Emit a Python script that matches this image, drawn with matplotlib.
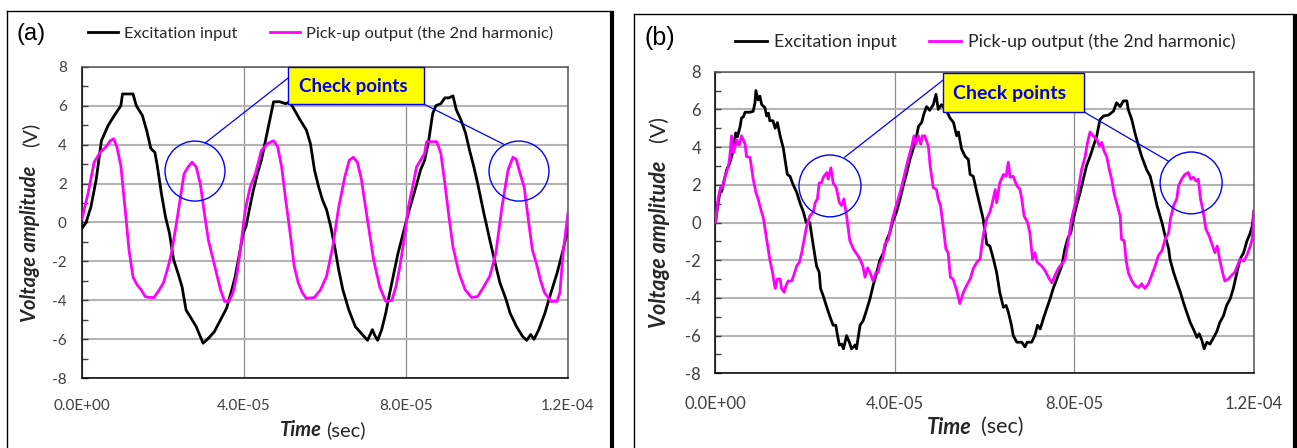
import numpy as np
import matplotlib.pyplot as plt
from matplotlib.patches import Ellipse, Rectangle
from matplotlib.lines import Line2D
from matplotlib.ticker import MultipleLocator, FuncFormatter

plt.rcParams['font.family'] = ['Lato', 'DejaVu Sans']

# (time in microseconds, voltage)
exc_a = [(0, -0.3), (1, 0), (2.2, 0.8), (3.5, 2.2), (4.8, 4.2), (6.5, 5), (8, 5.5), (9.6, 6),
         (10, 6.6), (12.6, 6.6), (13.4, 6), (14.9, 5.5), (16, 4.7), (17, 3.8), (18, 3.6), (18.6, 2.9),
         (19.6, 1.5), (20.6, 0.3), (21.6, -0.55), (22.6, -1.9), (23.7, -2.6), (24.7, -3.3), (25.7, -4.5),
         (27.2, -5), (28.2, -5.35), (29.2, -5.85), (29.9, -6.2), (31.2, -5.95), (32.7, -5.6), (34.2, -5),
         (35.7, -4.4), (36.8, -3.6), (37.8, -2.8), (38.8, -1.7), (39.8, -0.55), (40.5, -0.2), (41.3, 0.65),
         (42.3, 1.65), (43.3, 2.5), (44.3, 3.2), (45.3, 4.2), (46.3, 5.2), (47.3, 6.2), (48.8, 6.2),
         (50.3, 6.1), (51.3, 6.2), (52.4, 5.8), (53.9, 5.25), (55.4, 4.75), (56.4, 4.05), (57.4, 2.7),
         (58.4, 1.85), (59.4, 1.15), (60.4, 0.65), (61.4, -0.2), (62.4, -1.25), (63.4, -2.45), (64.4, -3.45),
         (65.9, -4.5), (67.5, -5.35), (69, -5.7), (70.5, -6.05), (71.7, -5.5), (72.3, -5.8), (73, -6.05),
         (74, -5.5), (75, -4.65), (76, -3.6), (77, -2.6), (78, -1.6), (79.5, -0.4), (80.6, 0.5), (82, 1.5),
         (83.6, 2.7), (84.6, 3.2), (85.6, 4.2), (86.6, 5.6), (87.4, 6), (88.6, 6.1), (89.6, 6.4), (90.6, 6.4),
         (91.6, 6.5), (92.4, 5.8), (93.6, 5.25), (94.7, 4.6), (95.7, 3.7), (96.7, 2.9), (97.7, 2),
         (99.2, 0.5), (100.7, -0.9), (102.2, -2.25), (103.2, -3.1), (104.7, -3.95), (105.7, -4.65),
         (107.3, -5.35), (108.8, -5.85), (109.8, -6.05), (110.8, -5.75), (111.6, -6), (112.8, -5.5),
         (114.3, -4.65), (115.8, -3.6), (117.3, -2.6), (118.8, -1.4), (120, -0.3)]

pick_a = [(0, 0.2), (1.5, 1.5), (3, 3.1), (4.5, 3.6), (6, 3.9), (7, 4.2), (7.8, 4.3), (8.6, 3.9), (9.6, 2.9),
          (10.6, 0.8), (11.6, -1.4), (12.6, -2.8), (13.6, -3.2), (14.6, -3.45), (15.6, -3.8), (16.6, -3.85),
          (17.8, -3.85), (19.1, -3.45), (20.1, -3.1), (21.3, -2.25), (22.1, -1.55), (23.2, -0.2), (24.2, 1.15),
          (25.2, 2.5), (26.2, 2.85), (27.2, 3.1), (28.2, 2.85), (29.2, 2), (30.2, 0.5), (31.2, -0.9),
          (32.2, -1.75), (33.2, -2.6), (34.2, -3.45), (35.2, -4.05), (36.3, -4.05), (37.3, -3.6), (38.3, -2.6),
          (39.3, -1.05), (40.3, 0.65), (41.5, 1.8), (42.8, 2.5), (44.3, 3.7), (45.8, 4.05), (47.3, 4.2),
          (48.3, 3.9), (49.3, 2.85), (50.3, 1.15), (51.4, -0.55), (52.4, -2.25), (53.4, -3.1), (54.4, -3.6),
          (55.4, -3.9), (57.4, -3.85), (58.9, -3.45), (60.4, -2.75), (61.9, -1.25), (63.4, 0.8), (64.9, 2.35),
          (66, 3.2), (67, 3.35), (68, 3.1), (69, 2.2), (70, 0.8), (71, -0.55), (72, -1.9), (73.5, -3.3),
          (75, -4.05), (76.5, -4), (77.5, -3.3), (78.5, -2.25), (79.5, -0.9), (80.6, 0.8), (81.6, 1.8),
          (82.6, 2.85), (83.6, 3.2), (84.6, 3.55), (85.1, 4.15), (87.6, 4.15), (88.6, 3.55), (89.6, 2),
          (90.6, 0.3), (91.6, -1.25), (93.1, -2.6), (94.6, -3.45), (96.2, -3.85), (97.7, -3.8), (99.2, -3.3),
          (100.7, -2.75), (102.2, -1.55), (103.7, 0.8), (105.2, 2.7), (106.4, 3.35), (107.2, 3.25),
          (108.2, 2.5), (109.2, 1.8), (110.2, 0.15), (111.2, -1.4), (112.2, -2.1), (113.2, -2.95),
          (114.2, -3.6), (115.8, -4.05), (117.3, -4.05), (118, -3.6), (118.8, -1.55), (120, 0.5)]

exc_b = [(0.1, 0), (0.7, 1.05), (1.1, 1.6), (1.5, 1.65), (1.9, 2.1), (2.6, 2.8), (3.2, 3.1), (3.7, 3.5),
         (4.1, 3.9), (4.6, 4.75), (5.0, 4.55), (5.6, 5.1), (5.9, 5.55), (6.3, 5.6), (6.7, 5.85), (7.8, 5.85),
         (8.5, 5.9), (8.9, 6.35), (9.1, 7.0), (9.6, 6.5), (10, 6.7), (10.4, 6.25), (11.1, 6.1), (11.5, 5.65),
         (11.9, 5.8), (12.2, 5.4), (12.9, 5.4), (13.4, 5.0), (13.9, 5.3), (14.5, 4.6), (15.2, 3.95),
         (16.1, 2.55), (16.7, 2.45), (17.4, 2.0), (18.2, 1.6), (18.9, 1.05), (19.7, 0.55), (20.3, 0),
         (21.1, 0), (21.9, -1.25), (22.6, -2.3), (23.2, -2.65), (23.5, -3.5), (24.1, -3.9), (24.9, -4.5),
         (25.6, -5.0), (26.3, -5.45), (26.9, -5.45), (27.2, -5.9), (27.7, -6.5), (28.2, -6.45), (28.6, -6.7),
         (29.3, -6.0), (29.9, -6.35), (30.4, -6.7), (31.2, -6.5), (31.5, -6.7), (32.3, -5.45), (33, -5.2),
         (33.8, -4.6), (34.5, -4.05), (35.2, -3.35), (36, -2.65), (36.7, -2.0), (37.5, -1.6), (38.2, -0.95),
         (38.9, -0.55), (39.7, 0.15), (40.4, 0.55), (41.2, 1.25), (41.9, 1.95), (42.7, 2.65), (43.4, 3.35),
         (44.1, 3.9), (44.9, 4.6), (45.3, 5.1), (46.0, 5.3), (46.5, 5.75), (47.1, 6.15), (47.8, 5.95),
         (48.6, 6.25), (49.2, 6.8), (49.7, 6.0), (50.4, 6.25), (51.6, 5.9), (52.3, 5.55), (53.1, 5.3),
         (53.8, 4.6), (54.2, 4.8), (54.9, 3.9), (55.7, 3.5), (56.4, 3.35), (56.8, 2.55), (57.5, 2.45),
         (58.3, 1.6), (59.0, 0.9), (59.7, 0.2), (60.5, -1.15), (61.2, -1.25), (62.0, -1.95), (62.7, -2.65),
         (63.4, -3.7), (64.2, -4.5), (64.8, -4.4), (65.3, -4.75), (66.0, -5.45), (66.4, -6.0), (67.2, -6.35),
         (68.3, -6.35), (69.0, -6.6), (69.5, -6.35), (70.5, -6.35), (71.2, -6.0), (71.8, -5.45), (72.4, -5.65),
         (73.1, -5.1), (73.8, -4.6), (74.6, -4.05), (75.3, -3.5), (76.1, -3.0), (77.2, -2.3), (77.9, -1.4),
         (78.6, -0.8), (79.2, -0.55), (79.8, 0.2), (80.5, 0.9), (81.3, 1.6), (82.0, 2.3), (82.7, 3.0),
         (83.5, 3.5), (84.4, 4.15), (85.0, 4.6), (85.7, 5.45), (86.5, 5.65), (87.6, 5.7), (88.7, 5.9),
         (89.4, 6.35), (90.2, 6.15), (90.9, 6.45), (91.7, 6.45), (92.0, 6.0), (92.8, 5.45), (93.5, 4.75),
         (94.3, 4.05), (95.0, 3.5), (96.1, 2.8), (96.9, 2.45), (97.6, 1.75), (98.4, 0.9), (99.5, 0),
         (100.2, -0.7), (101.0, -1.4), (101.3, -1.95), (102.1, -2.65), (102.8, -3.15), (103.6, -3.7),
         (104.3, -4.25), (105.0, -4.75), (105.8, -5.3), (106.5, -5.65), (107.3, -6.1), (107.8, -5.9),
         (108.4, -6.25), (108.9, -6.7), (109.5, -6.35), (110.2, -6.45), (111.0, -6.1), (111.7, -5.8),
         (112.4, -5.3), (113.2, -4.95), (113.9, -4.4), (114.7, -4.05), (115.4, -3.5), (116.2, -2.65),
         (116.9, -1.95), (117.7, -1.6), (118.4, -1.0), (119.1, -0.6), (119.6, -0.2), (120, 0.6)]

pick_b = [(0.1, 0), (0.7, 1.25), (1.2, 1.85), (1.7, 1.85), (2.2, 2.4), (3.0, 3.0), (3.3, 3.5), (3.7, 4.6),
          (4.1, 3.7), (4.5, 4.05), (4.8, 4.4), (5.4, 4.1), (5.9, 4.6), (6.7, 4.15), (7.0, 3.5), (7.8, 3.45),
          (8.2, 2.8), (8.5, 2.3), (9.1, 1.6), (9.6, 1.25), (10.2, 0.7), (10.8, 0.2), (11.5, -0.9),
          (12.2, -1.95), (12.8, -2.65), (13.4, -3.5), (13.9, -3.0), (14.5, -3.0), (14.8, -3.5), (15.4, -3.7),
          (15.8, -3.35), (16.3, -3.1), (17.1, -3.1), (17.6, -2.75), (18.2, -2.3), (18.8, -2.1), (19.3, -1.6),
          (19.8, -0.95), (20.4, -0.2), (21.1, 0.35), (21.9, 0.55), (22.3, 1.05), (22.8, 1.25), (23.2, 2.1),
          (23.7, 2.1), (24.1, 2.4), (24.9, 2.65), (25.2, 2.3), (25.8, 2.9), (26.3, 2.1), (27.0, 1.85),
          (27.7, 1.05), (28.2, 0.9), (28.7, 1.25), (29.3, 0.35), (30.0, -0.95), (30.8, -1.4), (31.5, -1.65),
          (32.3, -1.95), (32.9, -2.3), (33.4, -2.9), (34.0, -2.4), (34.5, -2.65), (35.2, -3.1), (35.8, -2.65),
          (36.3, -2.65), (36.7, -2.2), (37.3, -1.95), (37.8, -1.15), (38.6, -0.9), (39.3, 0), (40.1, 0.7),
          (40.8, 1.25), (41.6, 1.95), (42.3, 2.65), (43.0, 3.35), (43.8, 4.05), (44.3, 4.6), (44.7, 4.15),
          (45.3, 4.6), (45.8, 4.15), (46.2, 4.6), (46.7, 4.6), (47.5, 4.05), (47.9, 3.0), (48.6, 1.85),
          (49.3, 1.75), (49.7, 1.25), (50.2, 0.9), (50.8, -0.2), (51.4, -1.4), (51.9, -1.6), (52.4, -2.9),
          (53.0, -3.0), (53.8, -3.6), (54.5, -4.3), (55.3, -3.7), (56.0, -3.35), (56.8, -3.0), (57.5, -2.45),
          (58.3, -2.1), (59.0, -1.95), (59.7, -0.7), (60.5, 0.2), (61.2, 0.55), (61.6, 0.9), (62.4, 1.75),
          (62.7, 1.05), (63.4, 2.1), (64.2, 2.55), (64.8, 2.45), (65.3, 3.2), (65.7, 2.4), (66.4, 2.45),
          (67.2, 1.95), (67.9, 1.75), (68.3, 1.25), (68.8, 0.35), (69.6, 0), (70.1, -0.55), (70.7, -1.95),
          (71.2, -1.6), (71.7, -2.1), (72.7, -2.3), (73.5, -2.55), (74.2, -2.9), (75.0, -3.2), (75.7, -2.8),
          (76.4, -2.45), (77.2, -2.2), (77.9, -2.0), (78.6, -1.05), (79.4, 0.2), (80.1, 0.9), (80.9, 1.75),
          (81.6, 2.8), (82.4, 3.5), (82.9, 4.2), (83.5, 4.8), (84.2, 4.6), (85.0, 4.4), (85.6, 4.05),
          (86.1, 4.25), (86.6, 3.8), (87.2, 3.5), (87.8, 2.8), (88.3, 2.3), (88.8, 1.6), (89.4, 1.05),
          (90.2, 0.35), (90.5, -0.9), (91.1, -0.95), (91.5, -1.95), (92.0, -2.65), (92.8, -3.1), (93.5, -3.35),
          (94.3, -3.45), (95.0, -3.25), (95.7, -3.5), (96.5, -3.25), (97.2, -2.8), (98.0, -2.3), (98.7, -1.75),
          (99.5, -1.5), (100.2, -0.9), (101.0, -0.55), (101.4, 0.2), (102.1, 0.9), (102.8, 1.25), (103.2, 1.95),
          (103.9, 2.3), (104.6, 2.55), (105.4, 2.65), (105.9, 2.3), (106.5, 2.4), (107.1, 2.2), (107.6, 2.3),
          (108.1, 1.25), (108.7, 0.55), (109.3, -0.35), (110.0, -0.7), (110.8, -1.25), (111.3, -1.6),
          (111.8, -1.25), (112.4, -2.0), (113.0, -2.65), (113.5, -3.1), (114.3, -3.0), (115.0, -2.8),
          (115.7, -2.65), (116.3, -2.3), (116.9, -1.95), (117.7, -2.05), (118.4, -1.75), (119.1, -1.3),
          (119.6, -0.9), (120, 0.6)]

legend_labels = ['Excitation input', 'Pick-up output (the 2nd harmonic)']
panel_tags = ['(a)', '(b)']
x_ticks = [0, 4e-5, 8e-5, 1.2e-4]

W, H = 1297, 448
fig = plt.figure(figsize=(W / 100, H / 100), dpi=100)
fig.patch.set_facecolor('white')


def fx(px):
    return px / W


def fy(py):
    return 1 - py / H


def panel(box, exc, pick, tag, opt):
    l, t, r, b = box
    ax = fig.add_axes([fx(l), fy(b), fx(r) - fx(l), fy(t) - fy(b)])
    e = np.array(exc).T
    p = np.array(pick).T
    ax.plot(e[0] * 1e-6, e[1], color='black', lw=2.0, label=legend_labels[0], zorder=3)
    ax.plot(p[0] * 1e-6, p[1], color='#ff00ff', lw=2.0, label=legend_labels[1], zorder=3)
    ax.set_xlim(0, 1.2e-4)
    ax.set_ylim(-8, 8)
    ax.set_xticks(x_ticks)
    ax.xaxis.set_major_formatter(FuncFormatter(lambda x, pos: '{:.1E}'.format(x)))
    ax.yaxis.set_major_locator(MultipleLocator(2))
    ax.yaxis.set_minor_locator(MultipleLocator(1))
    ax.yaxis.set_major_formatter(FuncFormatter(lambda y, pos: '%d' % y))
    ax.grid(axis='y', color='#b4b4b4', lw=1.5, zorder=0)
    ax.grid(axis='x', color='#8c8c8c', lw=0.9, zorder=0)
    ax.set_axisbelow(True)
    ax.tick_params(axis='y', which='both', direction='in', length=4, width=1,
                   color='#404040', pad=opt['ypad'], labelsize=opt['tick'], labelcolor='#404040')
    ax.tick_params(axis='x', length=0, pad=opt['xpad'], labelsize=opt['tick'], labelcolor='#404040')
    for sp in ax.spines.values():
        sp.set_color('#555555')
        sp.set_linewidth(1.1)
    ax.spines['left'].set_color('black')
    ax.spines['bottom'].set_color('black')

    # check point annotations
    for (cx, cy, rx, ry) in opt['circles']:
        ax.add_patch(Ellipse((cx * 1e-6, cy), 2 * rx * 1e-6, 2 * ry, fill=False,
                             ec='#0000ff', lw=1.0, zorder=4))
    for (x0, y0, x1, y1) in opt['links']:
        ax.plot([x0 * 1e-6, x1 * 1e-6], [y0, y1], color='#0000ff', lw=0.9, zorder=4)
    bx0, by0, bx1, by1 = opt['box']
    ax.add_patch(Rectangle((bx0 * 1e-6, by0), (bx1 - bx0) * 1e-6, by1 - by0, fc='#ffff00',
                           ec='#0000ff', lw=1.0, zorder=6, clip_on=False))
    ax.text(opt['label_xy'][0] * 1e-6, opt['label_xy'][1], 'Check points', color='#0000ee',
            fontsize=opt['check'], fontweight='bold', ha='left', va='center', zorder=7)

    leg = ax.legend(loc='center left', bbox_to_anchor=(fx(opt['leg'][0]), fy(opt['leg'][1])),
                    bbox_transform=fig.transFigure, ncol=2, frameon=False, fontsize=opt['leg_fs'],
                    handlelength=opt['hl'], handletextpad=0.4, columnspacing=opt['cs'],
                    borderpad=0, borderaxespad=0)
    for txt in leg.get_texts():
        txt.set_color('#262626')

    fig.text(fx(opt['tag'][0]), fy(opt['tag'][1]), tag, family='Liberation Sans',
             fontsize=opt['tag_fs'], ha='left', va='center')
    # axis titles: bold italic name + plain unit
    yl = opt['ylab']
    fig.text(fx(yl[0]), fy(yl[1]), 'Voltage amplitude', rotation=90, fontsize=opt['lab'],
             fontweight='bold', style='italic', ha='center', va='bottom', color='#262626')
    fig.text(fx(yl[0]), fy(yl[2]), '(V)', rotation=90, fontsize=opt['lab'], ha='center',
             va='bottom', color='#262626')
    xl = opt['xlab']
    fig.text(fx(xl[0]), fy(xl[2]), 'Time', fontsize=opt['lab'], fontweight='bold', style='italic',
             ha='left', va='center', color='#262626')
    fig.text(fx(xl[1]), fy(xl[2]), '(sec)', fontsize=opt['lab'], ha='left', va='center',
             color='#262626')

    # outer panel frame with right-hand shadow
    fl, ft, fr = opt['frame']
    for xs, ys, lw in [([fl, fl], [ft, H + 5], 1.0), ([fl, fr], [ft, ft], 1.0),
                       ([fr + 2, fr + 2], [ft + 2, H + 5], 3.0)]:
        fig.add_artist(Line2D([fx(x) for x in xs], [fy(y) for y in ys], color='black', lw=lw))
    return ax


panel((82, 66.7, 568, 378.3), exc_a, pick_a, panel_tags[0], dict(
    ypad=11, xpad=15, tick=11, check=13.5, leg=(88, 33), leg_fs=11.8, hl=1.8, cs=2.0,
    tag=(16, 34), tag_fs=17, lab=14.5, ylab=(30, 322, 147), xlab=(280, 326, 430),
    circles=[(27.9, 2.64, 7.4, 1.54), (107.9, 2.64, 7.4, 1.54)],
    links=[(50.9, 7.42, 30.4, 4.08), (84.4, 6.08, 104.0, 4.03)],
    box=(50.9, 6.08, 84.4, 8.0), label_xy=(53.6, 7.0), frame=(7, 11, 610)))

panel((715, 71.7, 1254, 373.3), exc_b, pick_b, panel_tags[1], dict(
    ypad=10, xpad=16, tick=12, check=14, leg=(735, 42), leg_fs=12.8, hl=1.8, cs=1.8,
    tag=(645, 38), tag_fs=18, lab=15.5, ylab=(659, 328, 142), xlab=(927, 981, 427),
    circles=[(25.6, 1.94, 6.9, 1.64), (106.0, 2.1, 6.9, 1.64)],
    links=[(50.8, 7.56, 28.9, 3.47), (82.2, 5.86, 100.9, 3.26)],
    box=(50.8, 5.86, 82.2, 7.93), label_xy=(53.0, 6.87), frame=(634, 14, 1293)))

fig.savefig('out.png', dpi=100)
